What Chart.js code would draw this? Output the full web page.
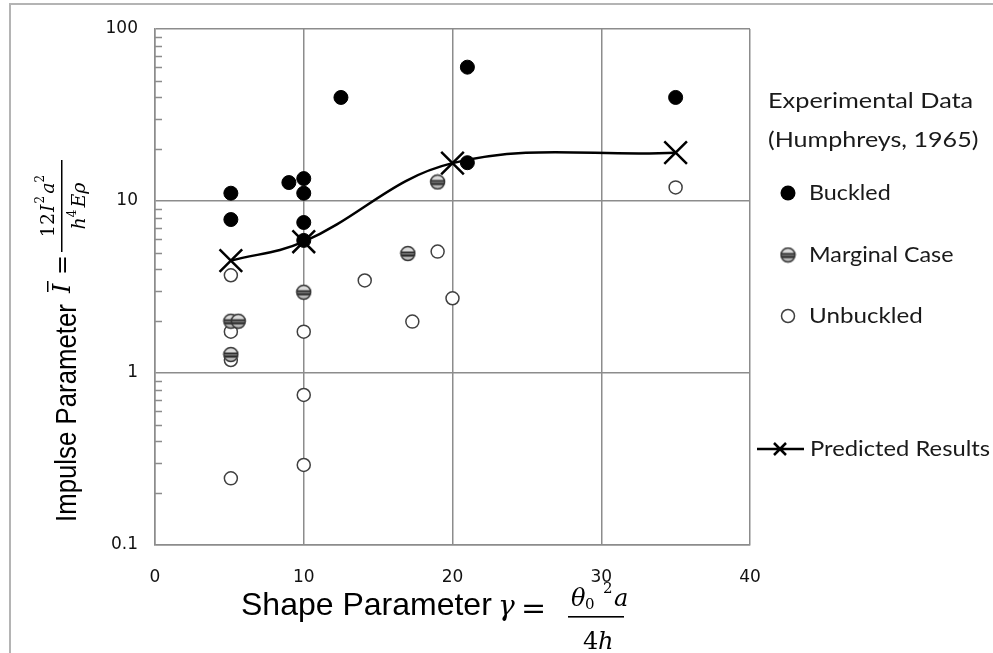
<!DOCTYPE html>
<html>
<head>
<meta charset="utf-8">
<script src="https://cdn.jsdelivr.net/npm/chart.js@4.4.1/dist/chart.umd.min.js"></script>
<style>
  html, body { margin: 0; padding: 0; background: #fff; }
  #wrap { width: 993px; height: 653px; }
</style>
</head>
<body>
<div id="wrap"><canvas id="impulseChart" width="993" height="653"></canvas></div>
<script>
// Experimental data (Humphreys, 1965): shape parameter vs impulse parameter
const buckledGamma = [5.1, 5.1, 9, 10, 10, 10, 10, 12.5, 21, 21, 35];
const buckledImpulse = [11.1, 7.8, 12.8, 13.5, 11.1, 7.5, 5.9, 40, 60, 16.7, 40];

const marginalGamma = [5.1, 5.6, 5.1, 10, 17, 19];
const marginalImpulse = [2.0, 2.0, 1.28, 2.95, 4.95, 12.9];

const unbuckledGamma = [5.1, 5.1, 5.1, 5.1, 10, 10, 10, 14.1, 17.3, 19, 20, 35];
const unbuckledImpulse = [3.7, 1.74, 1.19, 0.244, 1.74, 0.745, 0.292, 3.45, 1.99, 5.08, 2.72, 12.0];

// predicted results
const predictedGamma = [5.1, 10, 20, 35];
const predictedImpulse = [4.5, 5.8, 16.6, 19.1];

const xTicks = [0, 10, 20, 30, 40];
const yTicks = [0.1, 1, 10, 100];

const GRID = '#8c8c8c';
const SERIF = '"DejaVu Serif", serif';

function toPoints(xs, ys) {
    return xs.map((x, i) => ({ x: x, y: ys[i] }));
}

// striped grey marker used for the marginal cases
function marginalMarker(r) {
    const size = Math.ceil(r * 2 + 3);
    const c = document.createElement('canvas');
    c.width = size;
    c.height = size;
    const g = c.getContext('2d');
    const cx = size / 2, cy = size / 2;
    g.save();
    g.beginPath();
    g.arc(cx, cy, r, 0, Math.PI * 2);
    g.clip();
    const bands = [
        [0, 0.36, '#dadada'],
        [0.36, 0.45, '#1e1e1e'],
        [0.45, 0.58, '#707070'],
        [0.58, 0.72, '#2a2a2a'],
        [0.72, 1, '#b8b8b8']
    ];
    bands.forEach(b => {
        g.fillStyle = b[2];
        g.fillRect(0, cy - r + b[0] * 2 * r, size, (b[1] - b[0]) * 2 * r + 0.6);
    });
    g.restore();
    g.beginPath();
    g.arc(cx, cy, r, 0, Math.PI * 2);
    g.lineWidth = 1.5;
    g.strokeStyle = '#333';
    g.stroke();
    return c;
}

const marginalImg = marginalMarker(7);

// draws a run of text pieces one after another, each with its own font and shift
function runWidth(ctx, pieces) {
    let w = 0;
    pieces.forEach(p => { ctx.font = p.font; w += ctx.measureText(p.t).width + (p.gap || 0); });
    return w;
}
function drawRun(ctx, x, y, pieces) {
    pieces.forEach(p => {
        ctx.font = p.font;
        ctx.fillText(p.t, x, y + (p.dy || 0));
        x += ctx.measureText(p.t).width + (p.gap || 0);
    });
}

// horizontally stretched text
function wideText(ctx, text, x, y, sx) {
    ctx.save();
    ctx.translate(x, y);
    ctx.scale(sx, 1);
    ctx.fillText(text, 0, 0);
    ctx.restore();
}

// white page with the thin grey frame on top and left
const framePlugin = {
    id: 'frame',
    beforeDraw(chart) {
        const ctx = chart.ctx;
        ctx.save();
        ctx.fillStyle = '#fff';
        ctx.fillRect(0, 0, chart.width, chart.height);
        ctx.strokeStyle = '#b4b4b4';
        ctx.lineWidth = 2;
        ctx.beginPath();
        ctx.moveTo(10, chart.height);
        ctx.lineTo(10, 4);
        ctx.lineTo(chart.width, 4);
        ctx.stroke();
        ctx.restore();
    }
};

// small minor tick marks inside the left edge of the log axis
const minorTicksPlugin = {
    id: 'minorTicks',
    beforeDatasetsDraw(chart) {
        const y = chart.scales.y;
        const left = chart.chartArea.left;
        const ctx = chart.ctx;
        ctx.save();
        ctx.strokeStyle = GRID;
        ctx.lineWidth = 1.5;
        ctx.beginPath();
        for (let d = 0.1; d < 100; d *= 10) {
            for (let m = 2; m < 10; m++) {
                const py = Math.round(y.getPixelForValue(d * m)) + 0.5;
                ctx.moveTo(left, py);
                ctx.lineTo(left + 7, py);
            }
        }
        ctx.stroke();
        ctx.restore();
    }
};

// axis titles with their formulas
const titlesPlugin = {
    id: 'titles',
    afterDraw(chart) {
        const ctx = chart.ctx;
        ctx.save();
        ctx.fillStyle = '#000';
        ctx.textBaseline = 'alphabetic';
        ctx.textAlign = 'left';

        // x axis: Shape Parameter  gamma = theta0^2 a / 4h
        ctx.font = '32px "Liberation Sans", Arial, sans-serif';
        ctx.fillText('Shape Parameter', 241, 615);
        ctx.font = 'italic 28px ' + SERIF;
        ctx.fillText('γ', 498, 615);
        ctx.font = '30px ' + SERIF;
        ctx.fillText('=', 521, 618);
        ctx.font = 'italic 24px ' + SERIF;
        ctx.fillText('θ', 571, 606);
        ctx.fillText('a', 614, 606);
        ctx.font = '15px ' + SERIF;
        ctx.fillText('0', 585, 609);
        ctx.fillText('2', 603, 593);
        ctx.font = '24px ' + SERIF;
        ctx.fillText('4', 583, 649);
        ctx.font = 'italic 24px ' + SERIF;
        ctx.fillText('h', 598, 649);
        ctx.fillRect(568, 616, 56, 1.6);

        // y axis, rotated: Impulse Parameter  I = 12 I^2 a^2 / h^4 E rho
        ctx.rotate(-Math.PI / 2);
        // rotated frame: u = -screenY, v = screenX
        ctx.save();
        ctx.translate(-522, 76);
        ctx.scale(0.86, 1);
        ctx.font = '30px "Liberation Sans", Arial, sans-serif';
        ctx.fillText('Impulse Parameter', 0, 0);
        ctx.restore();

        ctx.font = 'italic 24px ' + SERIF;
        ctx.fillText('I', -293, 70);
        ctx.fillRect(-292, 47, 11, 1.5);
        ctx.font = '24px ' + SERIF;
        ctx.fillText('=', -275, 70);

        const barStart = -252, barEnd = -160;
        ctx.fillRect(barStart, 61, barEnd - barStart, 1.5);
        const mid = (barStart + barEnd) / 2;
        const num = [
            { t: '12', font: '19px ' + SERIF, gap: 1 },
            { t: 'I', font: 'italic 19px ' + SERIF, gap: 1 },
            { t: '2', font: '12px ' + SERIF, dy: -10, gap: 2 },
            { t: 'a', font: 'italic 19px ' + SERIF },
            { t: '2', font: '12px ' + SERIF, dy: -10 }
        ];
        drawRun(ctx, mid - runWidth(ctx, num) / 2, 54, num);
        const den = [
            { t: 'h', font: 'italic 19px ' + SERIF },
            { t: '4', font: '12px ' + SERIF, dy: -9, gap: 2 },
            { t: 'Eρ', font: 'italic 19px ' + SERIF }
        ];
        drawRun(ctx, mid - runWidth(ctx, den) / 2, 85, den);
        ctx.restore();
    }
};

// legend on the right
const legendPlugin = {
    id: 'sideLegend',
    afterDraw(chart) {
        const ctx = chart.ctx;
        ctx.save();
        ctx.fillStyle = '#1a1a1a';
        ctx.textBaseline = 'middle';
        ctx.textAlign = 'left';
        ctx.font = '22px Lato, "Open Sans", sans-serif';
        wideText(ctx, 'Experimental Data', 768, 101, 1.15);
        wideText(ctx, '(Humphreys, 1965)', 768, 140, 1.14);

        const mx = 788;
        // buckled
        ctx.beginPath();
        ctx.arc(mx, 193, 7.5, 0, Math.PI * 2);
        ctx.fillStyle = '#000';
        ctx.fill();
        // marginal
        ctx.drawImage(marginalImg, mx - marginalImg.width / 2, 255 - marginalImg.height / 2);
        // unbuckled
        ctx.beginPath();
        ctx.arc(mx, 316, 6.5, 0, Math.PI * 2);
        ctx.fillStyle = '#fff';
        ctx.fill();
        ctx.lineWidth = 1.5;
        ctx.strokeStyle = '#404040';
        ctx.stroke();
        // predicted line with cross
        ctx.strokeStyle = '#000';
        ctx.lineWidth = 2.5;
        ctx.beginPath();
        ctx.moveTo(757, 449);
        ctx.lineTo(804, 449);
        ctx.moveTo(774, 443);
        ctx.lineTo(786, 455);
        ctx.moveTo(786, 443);
        ctx.lineTo(774, 455);
        ctx.stroke();

        ctx.fillStyle = '#1a1a1a';
        wideText(ctx, 'Buckled', 809, 193, 1.06);
        wideText(ctx, 'Marginal Case', 809, 255, 1.06);
        wideText(ctx, 'Unbuckled', 809, 316, 1.1);
        wideText(ctx, 'Predicted Results', 810, 449, 1.08);
        ctx.restore();
    }
};

const tickFont = { family: '"DejaVu Sans", Verdana, sans-serif', size: 17 };

new Chart(document.getElementById('impulseChart'), {
    type: 'scatter',
    data: {
        datasets: [
            {
                label: 'Predicted Results',
                data: toPoints(predictedGamma, predictedImpulse),
                showLine: true,
                tension: 0.38,
                borderColor: '#000',
                borderWidth: 2.5,
                pointStyle: 'crossRot',
                pointRadius: 16,
                pointBorderWidth: 2.5,
                pointBorderColor: '#000',
                pointBackgroundColor: 'transparent'
            },
            {
                label: 'Buckled',
                data: toPoints(buckledGamma, buckledImpulse),
                pointStyle: 'circle',
                pointRadius: 7,
                backgroundColor: '#000',
                borderColor: '#000',
                borderWidth: 1
            },
            {
                label: 'Marginal Case',
                data: toPoints(marginalGamma, marginalImpulse),
                pointStyle: marginalImg,
                pointRadius: 7
            },
            {
                label: 'Unbuckled',
                data: toPoints(unbuckledGamma, unbuckledImpulse),
                pointStyle: 'circle',
                pointRadius: 6.5,
                backgroundColor: '#fff',
                borderColor: '#404040',
                borderWidth: 1.5
            }
        ]
    },
    options: {
        responsive: false,
        animation: false,
        events: [],
        layout: { padding: { left: 0, right: 243, top: 29, bottom: 0 } },
        plugins: {
            legend: { display: false },
            tooltip: { enabled: false }
        },
        scales: {
            x: {
                type: 'linear',
                min: 0,
                max: 40,
                afterBuildTicks: s => { s.ticks = xTicks.map(v => ({ value: v })); },
                afterFit: s => { s.height = 108; },
                grid: { color: GRID, lineWidth: 1.5, drawTicks: false },
                border: { color: GRID, width: 1.5 },
                ticks: { padding: 22, font: tickFont, color: '#111' }
            },
            y: {
                type: 'logarithmic',
                min: 0.1,
                max: 100,
                afterBuildTicks: s => { s.ticks = yTicks.map(v => ({ value: v })); },
                afterFit: s => { s.width = 155; },
                grid: { color: GRID, lineWidth: 1.5, drawTicks: false },
                border: { color: GRID, width: 1.5 },
                ticks: {
                    padding: 17,
                    font: tickFont,
                    color: '#111',
                    callback: v => String(v)
                }
            }
        }
    },
    plugins: [framePlugin, minorTicksPlugin, titlesPlugin, legendPlugin]
});
</script>
</body>
</html>
